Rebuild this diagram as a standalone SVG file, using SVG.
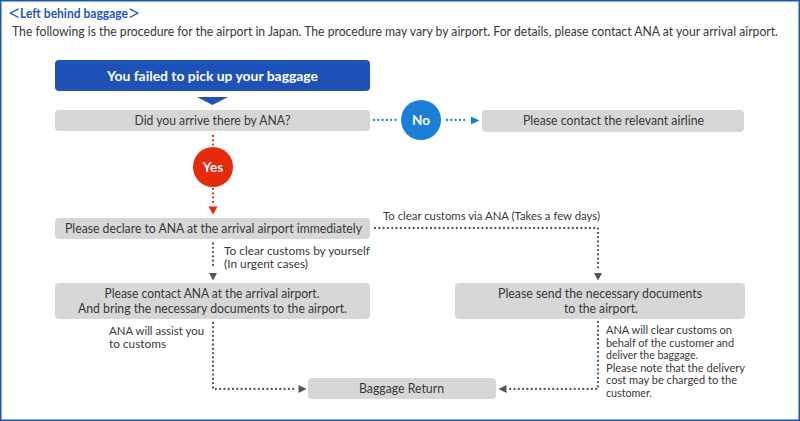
<svg xmlns="http://www.w3.org/2000/svg" width="800" height="421" viewBox="0 0 800 421">
<style>
text{font-family:"Lato","Noto Sans","Liberation Sans",sans-serif;fill:#383838}
.box{fill:#d7d7d7}
.lbl{font-size:13px;text-anchor:middle}
.note{font-size:12px}
.sm{font-size:11.3px}
.wt{fill:#fff;font-weight:bold;text-anchor:middle}
.dot{fill:none;stroke-width:2.3;stroke-linecap:round;stroke-dasharray:0 4.3}
.g{stroke:#555}
.b{stroke:#1b7fd6}
.r{stroke:#e62a0c}
.ag{fill:#555}
</style>
<rect x="0.75" y="0.75" width="798.5" height="419.5" fill="#fff" stroke="#1e56b8" stroke-width="1.5"/>
<text x="8" y="18" font-size="12.5" font-weight="bold" style="fill:#1e56b8;font-family:'Lato','Noto Sans CJK JP',sans-serif" textLength="132" lengthAdjust="spacingAndGlyphs">＜Left behind baggage＞</text>
<text x="12" y="36" font-size="12.5" textLength="766" lengthAdjust="spacingAndGlyphs">The following is the procedure for the airport in Japan. The procedure may vary by airport. For details, please contact ANA at your arrival airport.</text>

<g id="connectors">
  <polygon points="197,97 228,97 212.5,105" fill="#1f52b8"/>
  <path class="dot b" d="M374,120 H398 M447,120 H468"/>
  <polygon points="471,116.5 479.5,120.5 471,124.5" fill="#1b7fd6"/>
  <path class="dot r" d="M213,136 V146 M213,189 V203"/>
  <polygon points="208.5,206.5 217.5,206.5 213,214.5" fill="#e62a0c"/>
  <path class="dot g" d="M375,228 H598 V268"/>
  <polygon class="ag" points="594,273 602,273 598,280.5"/>
  <path class="dot g" d="M213,243.5 V268"/>
  <polygon class="ag" points="209,273 217,273 213,280.5"/>
  <path class="dot g" d="M213,323 V389 H295"/>
  <polygon class="ag" points="298.5,385 306.5,389 298.5,393"/>
  <path class="dot g" d="M598,322 V389 H510"/>
  <polygon class="ag" points="506.5,385 498.5,389 506.5,393"/>
</g>

<g id="start">
  <rect x="55" y="60" width="315" height="31" rx="4" fill="#1f52b8"/>
  <text class="wt" x="212.5" y="80.5" font-size="14" textLength="211" lengthAdjust="spacingAndGlyphs">You failed to pick up your baggage</text>
</g>
<g id="q-arrive">
  <rect class="box" x="55" y="110" width="315" height="21" rx="4"/>
  <text class="lbl" x="212.5" y="124.5" textLength="156" lengthAdjust="spacingAndGlyphs">Did you arrive there by ANA?</text>
</g>
<g id="no">
  <circle cx="421" cy="120" r="20" fill="#1b7fd6"/>
  <text class="wt" x="421" y="125" font-size="13.5">No</text>
</g>
<g id="contact-airline">
  <rect class="box" x="482" y="110" width="262" height="22" rx="4"/>
  <text class="lbl" x="613.5" y="124.5" textLength="181" lengthAdjust="spacingAndGlyphs">Please contact the relevant airline</text>
</g>
<g id="yes">
  <circle cx="213" cy="167" r="20" fill="#e62a0c"/>
  <text class="wt" x="213" y="171.5" font-size="13.5">Yes</text>
</g>
<g id="declare">
  <rect class="box" x="55" y="218" width="315" height="21" rx="4"/>
  <text class="lbl" x="213.5" y="233" textLength="297" lengthAdjust="spacingAndGlyphs">Please declare to ANA at the arrival airport immediately</text>
</g>
<g id="labels">
  <text class="note" x="383" y="220" textLength="217" lengthAdjust="spacingAndGlyphs">To clear customs via ANA (Takes a few days)</text>
  <text class="note" x="224" y="254.5" textLength="146" lengthAdjust="spacingAndGlyphs">To clear customs by yourself</text>
  <text class="note" x="224" y="268" textLength="84" lengthAdjust="spacingAndGlyphs">(In urgent cases)</text>
  <text class="sm" x="109" y="335" textLength="95" lengthAdjust="spacingAndGlyphs">ANA will assist you</text>
  <text class="sm" x="109" y="347.5" textLength="57" lengthAdjust="spacingAndGlyphs">to customs</text>
  <text class="sm" x="606" y="334" textLength="126" lengthAdjust="spacingAndGlyphs">ANA will clear customs on</text>
  <text class="sm" x="606" y="346.5" textLength="128" lengthAdjust="spacingAndGlyphs">behalf of the customer and</text>
  <text class="sm" x="606" y="359" textLength="92" lengthAdjust="spacingAndGlyphs">deliver the baggage.</text>
  <text class="sm" x="606" y="371.5" textLength="139" lengthAdjust="spacingAndGlyphs">Please note that the delivery</text>
  <text class="sm" x="606" y="384" textLength="131" lengthAdjust="spacingAndGlyphs">cost may be charged to the</text>
  <text class="sm" x="606" y="396.5" textLength="46" lengthAdjust="spacingAndGlyphs">customer.</text>
</g>
<g id="contact-ana">
  <rect class="box" x="55" y="283" width="315" height="36" rx="4"/>
  <text class="lbl" x="212" y="297.5" textLength="215" lengthAdjust="spacingAndGlyphs">Please contact ANA at the arrival airport.</text>
  <text class="lbl" x="212.5" y="312.5" textLength="269" lengthAdjust="spacingAndGlyphs">And bring the necessary documents to the airport.</text>
</g>
<g id="send-docs">
  <rect class="box" x="455" y="283" width="290" height="36" rx="4"/>
  <text class="lbl" x="600" y="298" textLength="204" lengthAdjust="spacingAndGlyphs">Please send the necessary documents</text>
  <text class="lbl" x="601" y="312.5" textLength="74" lengthAdjust="spacingAndGlyphs">to the airport.</text>
</g>
<g id="baggage-return">
  <rect class="box" x="308" y="378" width="188" height="21" rx="4"/>
  <text class="lbl" x="401.5" y="392.5" textLength="85" lengthAdjust="spacingAndGlyphs">Baggage Return</text>
</g>
</svg>
